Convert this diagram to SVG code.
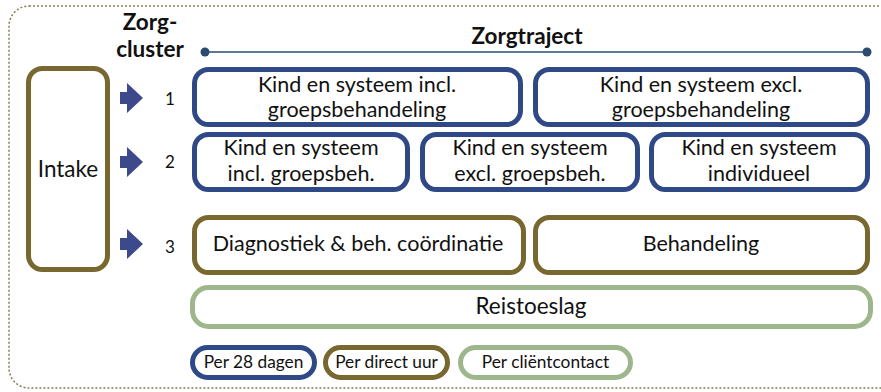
<svg xmlns="http://www.w3.org/2000/svg" width="881" height="392" viewBox="0 0 881 392">
<style>
text{font-family:Lato,"Liberation Sans",sans-serif;fill:#111;}
.t{font-size:21.5px;text-anchor:middle;}
.b{font-size:22.5px;text-anchor:middle;}
.h{font-size:22.5px;font-weight:bold;text-anchor:middle;}
.n{font-size:17px;text-anchor:middle;}
.lg{font-size:17.3px;text-anchor:middle;}
.blue{fill:#fff;stroke:#2f4886;stroke-width:5;}
.olive{fill:#fff;stroke:#78672f;stroke-width:5;}
.green{fill:#fff;stroke:#9eb68b;stroke-width:5;}
.arr{fill:#3c4a8b;}
</style>
<rect x="9" y="6" width="900" height="382" rx="20" fill="none" stroke="#8b7b4d" stroke-width="1.5" stroke-dasharray="2,2"/>
<g id="header">
<text class="h" x="150" y="30">Zorg-</text>
<text class="h" x="150" y="57">cluster</text>
<text class="h" x="527" y="44">Zorgtraject</text>
<line x1="205" y1="52" x2="867" y2="52" stroke="#2c4b6e" stroke-width="1.5"/>
<circle cx="205" cy="52" r="4.5" fill="#2c4b6e"/>
<circle cx="867" cy="52" r="4.5" fill="#2c4b6e"/>
</g>
<g id="intake">
<rect class="olive" x="28.5" y="68.5" width="79" height="201" rx="14"/>
<text class="b" x="68" y="177">Intake</text>
</g>
<g id="connectors">
<path class="arr" d="M120,92 H127 V83 L143,98 L127,113 V104 H120 Z"/>
<path class="arr" d="M120,156 H127 V147 L143,162 L127,177 V168 H120 Z"/>
<path class="arr" d="M120,238 H127 V229 L143,244 L127,259 V250 H120 Z"/>
</g>
<g id="cluster-nums">
<text class="n" x="170" y="105">1</text>
<text class="n" x="170" y="168">2</text>
<text class="n" x="170" y="253">3</text>
</g>
<g id="n1a">
<rect class="blue" x="194.5" y="69.5" width="326" height="55" rx="14"/>
<text class="t" x="357" y="92">Kind en systeem incl.</text>
<text class="t" x="357" y="117">groepsbehandeling</text>
</g>
<g id="n1b">
<rect class="blue" x="535.5" y="69.5" width="332" height="55" rx="14"/>
<text class="t" x="701" y="92">Kind en systeem excl.</text>
<text class="t" x="701" y="117">groepsbehandeling</text>
</g>
<g id="n2a">
<rect class="blue" x="194.5" y="134.5" width="213" height="55" rx="14"/>
<text class="t" x="301" y="155">Kind en systeem</text>
<text class="t" x="301" y="181">incl. groepsbeh.</text>
</g>
<g id="n2b">
<rect class="blue" x="422.5" y="134.5" width="215" height="55" rx="14"/>
<text class="t" x="530" y="155">Kind en systeem</text>
<text class="t" x="530" y="181">excl. groepsbeh.</text>
</g>
<g id="n2c">
<rect class="blue" x="651.5" y="134.5" width="216" height="55" rx="14"/>
<text class="t" x="759" y="155">Kind en systeem</text>
<text class="t" x="759" y="181">individueel</text>
</g>
<g id="n3a">
<rect class="olive" x="194.5" y="217.5" width="329" height="55" rx="14"/>
<text class="t" x="358" y="251">Diagnostiek &amp; beh. coördinatie</text>
</g>
<g id="n3b">
<rect class="olive" x="535.5" y="217.5" width="332" height="55" rx="14"/>
<text class="t" x="701" y="251">Behandeling</text>
</g>
<g id="reistoeslag">
<rect class="green" x="192.5" y="287.5" width="678" height="39" rx="16"/>
<text class="b" x="531" y="314">Reistoeslag</text>
</g>
<g id="legend-28">
<rect class="blue" x="192.5" y="347.5" width="122" height="30" rx="15"/>
<text class="lg" x="253.5" y="368">Per 28 dagen</text>
</g>
<g id="legend-uur">
<rect class="olive" x="325.5" y="347.5" width="122" height="30" rx="15"/>
<text class="lg" x="386.5" y="368">Per direct uur</text>
</g>
<g id="legend-contact">
<rect class="green" x="460.5" y="347.5" width="170" height="30" rx="15"/>
<text class="lg" x="545.5" y="368">Per cliëntcontact</text>
</g>
</svg>
